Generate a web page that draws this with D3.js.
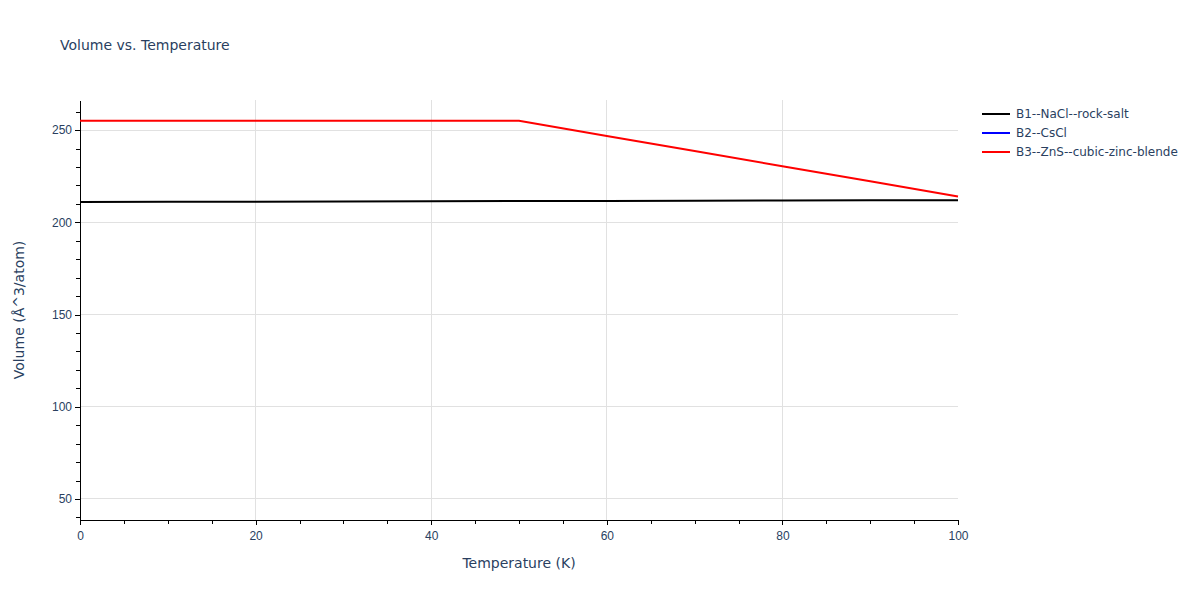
<html>
<style>
    body { margin: 0; background: #fff; }
    svg { font-family: "DejaVu Sans", verdana, arial, sans-serif; }
    .grid line { stroke: #e1e1e1; stroke-width: 1; shape-rendering: crispEdges; }
    .axis path, .axis line { stroke: #000; stroke-width: 1; shape-rendering: crispEdges; }
    .axis text { fill: #2a3f5f; font-size: 12px; }
</style>
<svg width="1200" height="600"></svg>
<script src="https://d3js.org/d3.v7.min.js"></script>
<script>
    // data
    var temperature = [0, 10, 20, 30, 40, 50, 60, 70, 80, 90, 100];
    var volB1 = [211.0, 211.1, 211.2, 211.3, 211.4, 211.5, 211.6, 211.7, 211.8, 211.9, 212.0];
    var volB2 = [];
    var volB3 = [255.0, 255.0, 255.0, 255.0, 255.0, 255.0, 246.8, 238.6, 230.4, 222.2, 214.0];
    var seriesNames = ["B1--NaCl--rock-salt", "B2--CsCl", "B3--ZnS--cubic-zinc-blende"];
    var seriesColors = ["#000000", "#0000ff", "#ff0000"];
    var xTicks = [0, 20, 40, 60, 80, 100];
    var yTicks = [50, 100, 150, 200, 250];

    var svg = d3.select("svg");
    var margin = {left: 80, right: 242, top: 100, bottom: 80};
    var width = 1200 - margin.left - margin.right,
        height = 600 - margin.top - margin.bottom;

    var x = d3.scaleLinear().domain([0, 100]).range([0, width]);
    var y = d3.scaleLinear().domain([38.6, 266.3]).range([height, 0]);

    var g = svg.append("g").attr("transform", "translate(" + margin.left + "," + margin.top + ")");

    // grid
    g.append("g").attr("class", "grid")
        .selectAll("line").data(xTicks.filter(d => d > 0 && d < 100)).enter().append("line")
        .attr("x1", d => x(d)).attr("x2", d => x(d)).attr("y1", 0).attr("y2", height);
    g.append("g").attr("class", "grid")
        .selectAll("line").data(yTicks).enter().append("line")
        .attr("x1", 0).attr("x2", width).attr("y1", d => y(d)).attr("y2", d => y(d));

    // minor ticks
    var xMinor = d3.range(0, 101, 5);
    var yMinor = d3.range(40, 261, 10);
    g.append("g").attr("class", "axis")
        .attr("transform", "translate(0," + height + ")")
        .call(d3.axisBottom(x).tickValues(xMinor).tickSize(4).tickFormat("").tickSizeOuter(0))
        .select(".domain").remove();
    g.append("g").attr("class", "axis")
        .call(d3.axisLeft(y).tickValues(yMinor).tickSize(4).tickFormat("").tickSizeOuter(0))
        .select(".domain").remove();

    // major axes
    g.append("g").attr("class", "axis")
        .attr("transform", "translate(0," + height + ")")
        .call(d3.axisBottom(x).tickValues(xTicks).tickSize(5).tickSizeOuter(0).tickPadding(6));
    g.append("g").attr("class", "axis")
        .call(d3.axisLeft(y).tickValues(yTicks).tickSize(5).tickSizeOuter(0).tickPadding(3));

    // lines
    var line = d3.line().x(d => x(d[0])).y(d => y(d[1]));
    [volB1, volB2, volB3].forEach(function(vals, i) {
        if (!vals.length) return;
        g.append("path")
            .datum(temperature.map((t, j) => [t, vals[j]]))
            .attr("d", line)
            .attr("fill", "none")
            .attr("stroke", seriesColors[i])
            .attr("stroke-width", 2);
    });

    // titles
    svg.append("text").attr("x", 60).attr("y", 50)
        .attr("fill", "#2a3f5f").style("font-size", "14px")
        .text("Volume vs. Temperature");
    svg.append("text").attr("x", margin.left + width / 2).attr("y", 568)
        .attr("text-anchor", "middle").attr("fill", "#2a3f5f").style("font-size", "14px")
        .text("Temperature (K)");
    svg.append("text")
        .attr("transform", "translate(24," + (margin.top + height / 2) + ") rotate(-90)")
        .attr("text-anchor", "middle").attr("fill", "#2a3f5f").style("font-size", "14px")
        .text("Volume (Å^3/atom)");

    // legend
    var legend = svg.append("g").attr("transform", "translate(982,114)");
    seriesNames.forEach(function(name, i) {
        var row = legend.append("g").attr("transform", "translate(0," + (i * 19) + ")");
        row.append("line").attr("x1", 0).attr("x2", 28).attr("y1", 0).attr("y2", 0)
            .attr("stroke", seriesColors[i]).attr("stroke-width", 2);
        row.append("text").attr("x", 34).attr("y", 4)
            .attr("fill", "#2a3f5f").style("font-size", "12px")
            .text(name);
    });
</script>
</html>
